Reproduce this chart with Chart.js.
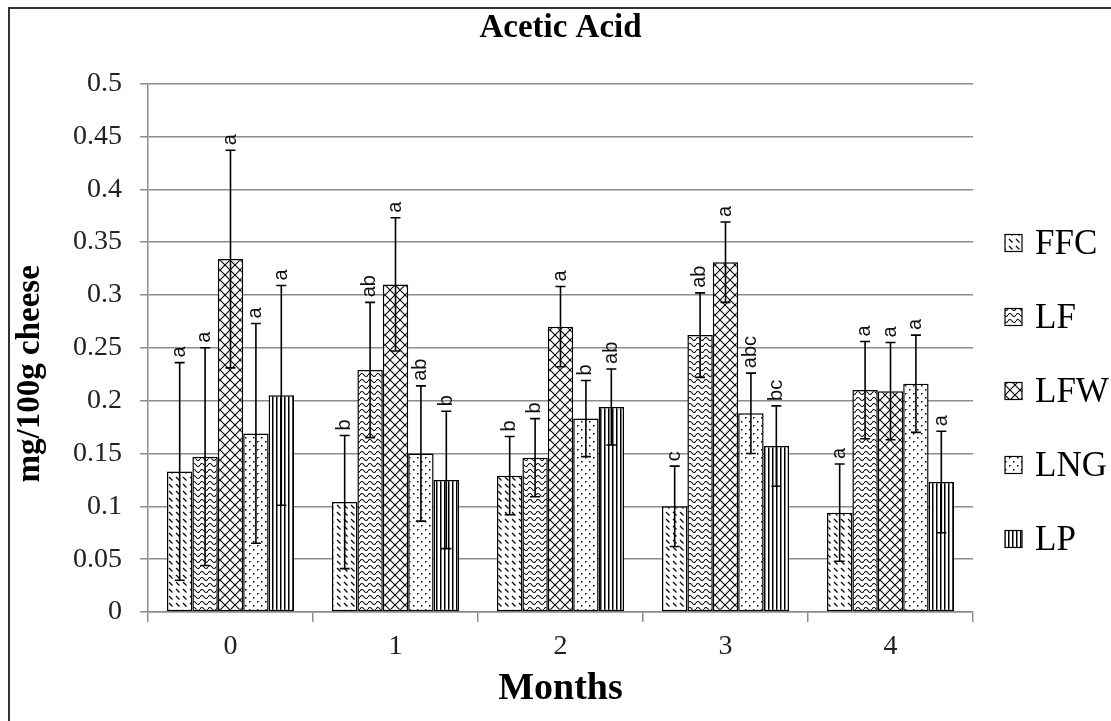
<!DOCTYPE html>
<html>
<head>
<meta charset="utf-8">
<script src="https://cdn.jsdelivr.net/npm/chart.js@4/dist/chart.umd.min.js"></script>
<style>
  html, body { margin: 0; padding: 0; background: #fff; }
  #wrap { width: 1111px; height: 721px; position: relative; }
</style>
</head>
<body>
<div id="wrap"><canvas id="c" width="1111" height="721"></canvas></div>
<script>
// Acetic acid content (mg/100g cheese) by ripening month
const months = ['0', '1', '2', '3', '4'];
const seriesNames = ['FFC', 'LF', 'LFW', 'LNG', 'LP'];

const ffc = [0.133, 0.104, 0.129, 0.100, 0.094];
const lf  = [0.147, 0.229, 0.146, 0.262, 0.210];
const lfw = [0.334, 0.310, 0.270, 0.331, 0.209];
const lng = [0.169, 0.150, 0.183, 0.188, 0.216];
const lp  = [0.205, 0.125, 0.194, 0.157, 0.123];

// standard deviations
const ffcErr = [0.103, 0.063, 0.037, 0.038, 0.046];
const lfErr  = [0.103, 0.064, 0.037, 0.040, 0.046];
const lfwErr = [0.103, 0.063, 0.038, 0.038, 0.046];
const lngErr = [0.104, 0.064, 0.036, 0.038, 0.046];
const lpErr  = [0.104, 0.065, 0.036, 0.038, 0.048];

// significance letters
const ffcSig = ['a', 'b', 'b', 'c', 'a'];
const lfSig  = ['a', 'ab', 'b', 'ab', 'a'];
const lfwSig = ['a', 'a', 'a', 'a', 'a'];
const lngSig = ['a', 'ab', 'b', 'abc', 'a'];
const lpSig  = ['a', 'b', 'ab', 'bc', 'a'];

const yTicks = [0, 0.05, 0.1, 0.15, 0.2, 0.25, 0.3, 0.35, 0.4, 0.45, 0.5];
const yTitle = 'mg/100g cheese';

const SERIF = "'Liberation Serif', 'Times New Roman', serif";
const SANS = "'Liberation Sans', Arial, sans-serif";

// ---- fill patterns ----
function makeTile(w, h, draw) {
  const cv = document.createElement('canvas');
  cv.width = w; cv.height = h;
  const g = cv.getContext('2d');
  g.fillStyle = '#fff';
  g.fillRect(0, 0, w, h);
  g.strokeStyle = '#000';
  g.fillStyle = '#000';
  draw(g);
  return g.createPattern(cv, 'repeat');
}
const ctxMain = document.getElementById('c').getContext('2d');

// short back-slash dashes
const patDash = makeTile(7, 7, g => {
  g.lineWidth = 1.2;
  g.beginPath(); g.moveTo(1, 1); g.lineTo(4.5, 4.5); g.stroke();
});
// wavy horizontal lines
const patWave = makeTile(8, 6, g => {
  g.lineWidth = 1.1;
  g.beginPath();
  g.moveTo(0, 3);
  g.quadraticCurveTo(2, 0, 4, 3);
  g.quadraticCurveTo(6, 6, 8, 3);
  g.stroke();
});
// diagonal cross-hatch
const patCross = makeTile(10, 10, g => {
  g.lineWidth = 1.1;
  g.beginPath(); g.moveTo(0, 0); g.lineTo(10, 10); g.stroke();
  g.beginPath(); g.moveTo(10, 0); g.lineTo(0, 10); g.stroke();
});
// sparse dots
const patDots = makeTile(8, 8, g => {
  g.fillRect(1, 1, 1.5, 1.5);
  g.fillRect(5, 5, 1.5, 1.5);
});
// vertical stripes
const patStripe = makeTile(4, 4, g => {
  g.fillRect(0, 0, 1.5, 4);
});

const values = [ffc, lf, lfw, lng, lp];
const errors = [ffcErr, lfErr, lfwErr, lngErr, lpErr];
const letters = [ffcSig, lfSig, lfwSig, lngSig, lpSig];
const fills = [patDash, patWave, patCross, patDots, patStripe];

const datasets = seriesNames.map((name, i) => ({
  label: name,
  data: values[i],
  errors: errors[i],
  letters: letters[i],
  backgroundColor: fills[i],
  borderColor: '#000',
  borderWidth: 1.5,
  borderSkipped: false,
  categoryPercentage: 0.77,
  barPercentage: 1.0
}));

// frame around the whole figure
const framePlugin = {
  id: 'frame',
  beforeDraw(chart) {
    const c = chart.ctx;
    c.save();
    c.fillStyle = '#fff';
    c.fillRect(0, 0, chart.width, chart.height);
    c.strokeStyle = '#333';
    c.lineWidth = 2;
    c.strokeRect(9, 8, chart.width + 20, chart.height + 20);
    c.restore();
  }
};

// vertical axis caption
const yTitlePlugin = {
  id: 'yCaption',
  afterDraw(chart) {
    const c = chart.ctx;
    const area = chart.chartArea;
    c.save();
    c.translate(30, (area.top + area.bottom) / 2 + 26);
    c.rotate(-Math.PI / 2);
    c.font = 'bold 33px ' + SERIF;
    c.fillStyle = '#000';
    c.textAlign = 'center';
    c.textBaseline = 'middle';
    c.fillText(yTitle, 0, 0);
    c.restore();
  }
};

// error bars and significance letters
const errorBarPlugin = {
  id: 'errorBars',
  afterDatasetsDraw(chart) {
    const c = chart.ctx;
    const ys = chart.scales.y;
    c.save();
    chart.data.datasets.forEach((ds, di) => {
      const meta = chart.getDatasetMeta(di);
      meta.data.forEach((bar, i) => {
        const v = ds.data[i], e = ds.errors[i];
        const x = bar.x;
        const yTop = ys.getPixelForValue(v + e);
        const yBot = ys.getPixelForValue(v - e);
        c.strokeStyle = '#000';
        c.lineWidth = 1.6;
        c.beginPath();
        c.moveTo(x, yTop); c.lineTo(x, yBot);
        c.moveTo(x - 5, yTop); c.lineTo(x + 5, yTop);
        c.moveTo(x - 5, yBot); c.lineTo(x + 5, yBot);
        c.stroke();
        // letter, rotated to read upward
        c.save();
        c.translate(x, yTop - 5);
        c.rotate(-Math.PI / 2);
        c.font = '20px ' + SANS;
        c.fillStyle = '#111';
        c.textAlign = 'left';
        c.textBaseline = 'alphabetic';
        c.fillText(ds.letters[i], 0, 20 * 0.27);
        c.restore();
      });
    });
    c.restore();
  }
};

// legend on the right
const legendPlugin = {
  id: 'sideLegend',
  afterDraw(chart) {
    const c = chart.ctx;
    const x0 = chart.chartArea.right + 32;
    const yStart = 243, step = 74, box = 17;
    c.save();
    chart.data.datasets.forEach((ds, i) => {
      const yc = yStart + i * step;
      c.fillStyle = ds.backgroundColor;
      c.fillRect(x0, yc - box / 2, box, box);
      c.strokeStyle = '#000';
      c.lineWidth = 1.2;
      c.strokeRect(x0, yc - box / 2, box, box);
      c.fillStyle = '#000';
      c.font = '35px ' + SERIF;
      c.textAlign = 'left';
      c.textBaseline = 'middle';
      c.fillText(ds.label, x0 + box + 13, yc + 2);
    });
    c.restore();
  }
};

new Chart(ctxMain, {
  type: 'bar',
  data: { labels: months, datasets },
  plugins: [framePlugin, errorBarPlugin, legendPlugin, yTitlePlugin],
  options: {
    responsive: false,
    animation: false,
    layout: { padding: { top: 8, left: 10, right: 138, bottom: 0 } },
    plugins: {
      legend: { display: false },
      tooltip: { enabled: false },
      title: {
        display: true,
        fullSize: false,
        text: 'Acetic Acid',
        color: '#000',
        font: { family: SERIF, size: 33, weight: 'bold' },
        padding: { top: 1, bottom: 35 }
      }
    },
    scales: {
      x: {
        grid: {
          display: true,
          drawOnChartArea: false,
          offset: true,
          tickLength: 10,
          color: '#8c8c8c',
          lineWidth: 1.5
        },
        border: { color: '#8c8c8c', width: 1.5 },
        ticks: {
          color: '#222',
          font: { family: SERIF, size: 28 },
          padding: 8
        },
        title: {
          display: true,
          text: 'Months',
          color: '#000',
          font: { family: SERIF, size: 38, weight: 'bold' },
          padding: { top: 0, bottom: 9 }
        },
        afterFit(s) { s.height = 109; }
      },
      y: {
        min: 0,
        max: 0.5,
        afterBuildTicks(s) { s.ticks = yTicks.map(v => ({ value: v })); },
        grid: {
          color: '#8c8c8c',
          lineWidth: 1.5,
          tickLength: 8
        },
        border: { color: '#8c8c8c', width: 1.5 },
        ticks: {
          color: '#222',
          font: { family: SERIF, size: 28 },
          padding: 18,
          callback: v => String(v)
        },
        afterFit(s) { s.width = 138; }
      }
    }
  }
});
</script>
</body>
</html>
